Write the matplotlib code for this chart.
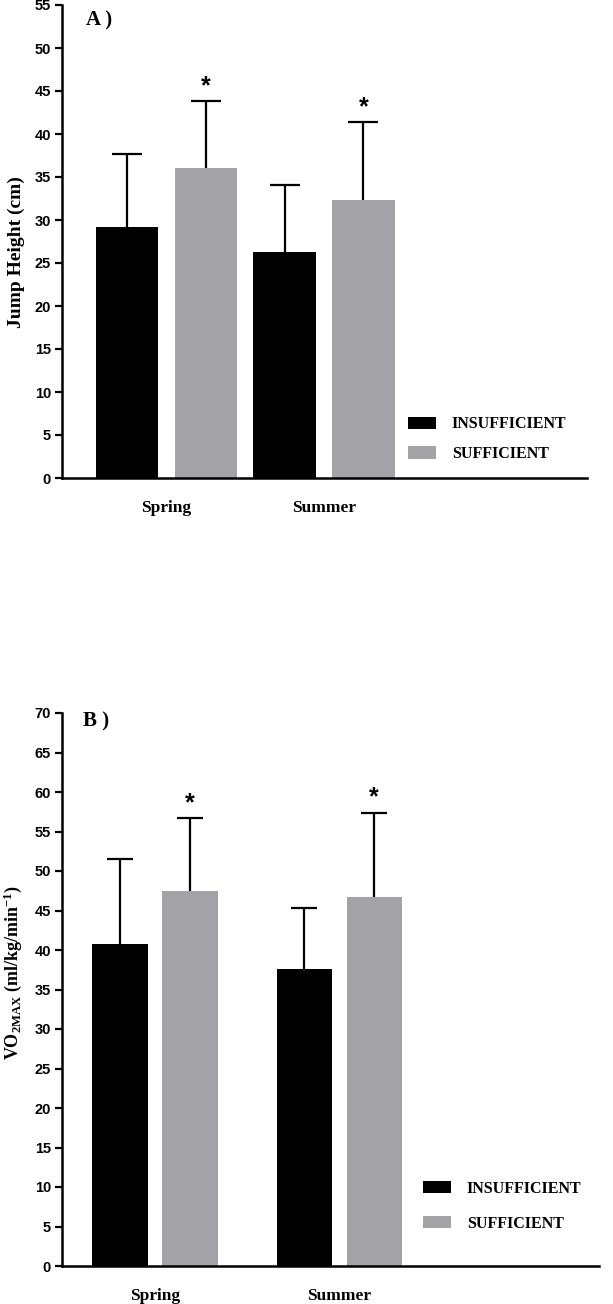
import matplotlib
matplotlib.use("Agg")
import matplotlib.pyplot as plt
from matplotlib.patches import Patch
import numpy as np

# ---- data ----
seasons = ["Spring", "Summer"]
groups = ["INSUFFICIENT", "SUFFICIENT"]

jump_insufficient = [29.2, 26.3]
jump_insufficient_sd = [8.5, 7.8]
jump_sufficient = [36.1, 32.3]
jump_sufficient_sd = [7.7, 9.1]

vo2_insufficient = [40.7, 37.6]
vo2_insufficient_sd = [10.8, 7.7]
vo2_sufficient = [47.5, 46.7]
vo2_sufficient_sd = [9.2, 10.7]

jump_ticks = list(range(0, 56, 5))
vo2_ticks = list(range(0, 71, 5))

BLACK = "#000000"
GREY = "#a3a3a7"

plt.rcParams["mathtext.fontset"] = "custom"
plt.rcParams["mathtext.rm"] = "Liberation Serif:bold"
plt.rcParams["mathtext.bf"] = "Liberation Serif:bold"
plt.rcParams["mathtext.it"] = "Liberation Serif:bold"

SERIF = "Liberation Serif"
SANS = "Liberation Sans"

fig = plt.figure(figsize=(6.13, 13.04), dpi=100)

W, H = 613, 1304


def make_axes(left_px, right_px, top_px, bottom_px):
    return fig.add_axes([left_px / W, 1 - bottom_px / H,
                         (right_px - left_px) / W, (bottom_px - top_px) / H])


def upper_errorbar(ax, x, y, err, capsize):
    eb = ax.errorbar(x, y, yerr=[np.zeros(len(y)), err], fmt="none",
                     ecolor="black", elinewidth=1.6, capsize=capsize,
                     capthick=1.6, zorder=1)
    caps = eb[1]
    if len(caps) == 2:
        caps[0].set_visible(False)


def draw_panel(ax, ins, ins_sd, suf, suf_sd, ticks, ymax, offset, width,
               xlim, capsize, letter, ylabel, ylabel_size, legend_anchor,
               legend_spacing, label_coords, letter_pos):
    x = np.arange(len(seasons))
    ax.bar(x - offset, ins, width, color=BLACK, zorder=2)
    ax.bar(x + offset, suf, width, color=GREY, zorder=2)
    upper_errorbar(ax, x - offset, ins, ins_sd, capsize)
    upper_errorbar(ax, x + offset, suf, suf_sd, capsize)
    for xi, v, s in zip(x + offset, suf, suf_sd):
        ax.annotate("*", (xi, v + s), xytext=(0, 2), textcoords="offset points",
                    ha="center", va="bottom", fontsize=18, fontweight="bold",
                    family=SANS)
    ax.set_xlim(*xlim)
    ax.set_ylim(0, ymax)
    ax.set_yticks(ticks)
    ax.set_yticklabels([str(t) for t in ticks], fontsize=10.5, fontweight="bold",
                       family=SANS)
    ax.set_xticks(x)
    ax.set_xticklabels(seasons, fontsize=12.5, fontweight="bold", family=SERIF)
    ax.tick_params(axis="x", length=0, pad=16)
    ax.tick_params(axis="y", length=5, width=1.6, pad=3)
    for sp in ["top", "right"]:
        ax.spines[sp].set_visible(False)
    for sp in ["left", "bottom"]:
        ax.spines[sp].set_linewidth(1.8)
    ax.set_ylabel(ylabel, fontsize=ylabel_size, fontweight="bold", family=SERIF)
    ax.yaxis.set_label_coords(*label_coords)
    ax.text(letter_pos[0], letter_pos[1], letter, transform=ax.transAxes,
            fontsize=15, fontweight="bold", family=SERIF, ha="left", va="center")
    handles = [Patch(facecolor=BLACK, edgecolor="none"),
               Patch(facecolor=GREY, edgecolor="none")]
    ax.legend(handles, groups, loc="center left", bbox_to_anchor=legend_anchor,
              frameon=False, handlelength=1.75, handleheight=0.8,
              handletextpad=1.0, labelspacing=legend_spacing, borderpad=0,
              borderaxespad=0,
              prop={"family": SERIF, "weight": "bold", "size": 11.5})
    return ax


axA = make_axes(62, 587, 5, 478)
draw_panel(axA, jump_insufficient, jump_insufficient_sd, jump_sufficient,
           jump_sufficient_sd, jump_ticks, 55, 0.25, 0.397, (-0.663, 2.67), 11,
           "A )", "Jump Height (cm)", 14, (0.659, 0.082), 0.85,
           (-0.07, 0.478), (0.046, 0.968))

axB = make_axes(62, 599, 713, 1266)
draw_panel(axB, vo2_insufficient, vo2_insufficient_sd, vo2_sufficient,
           vo2_sufficient_sd, vo2_ticks, 70, 0.19, 0.30, (-0.504, 2.41), 9.5,
           "B )", r"VO$_{\mathrm{2MAX}}$ (ml/kg/min$^{\mathrm{-1}}$)", 13,
           (0.672, 0.108), 1.2, (-0.07, 0.53), (0.039, 0.984))

fig.savefig("out.png", dpi=100)
